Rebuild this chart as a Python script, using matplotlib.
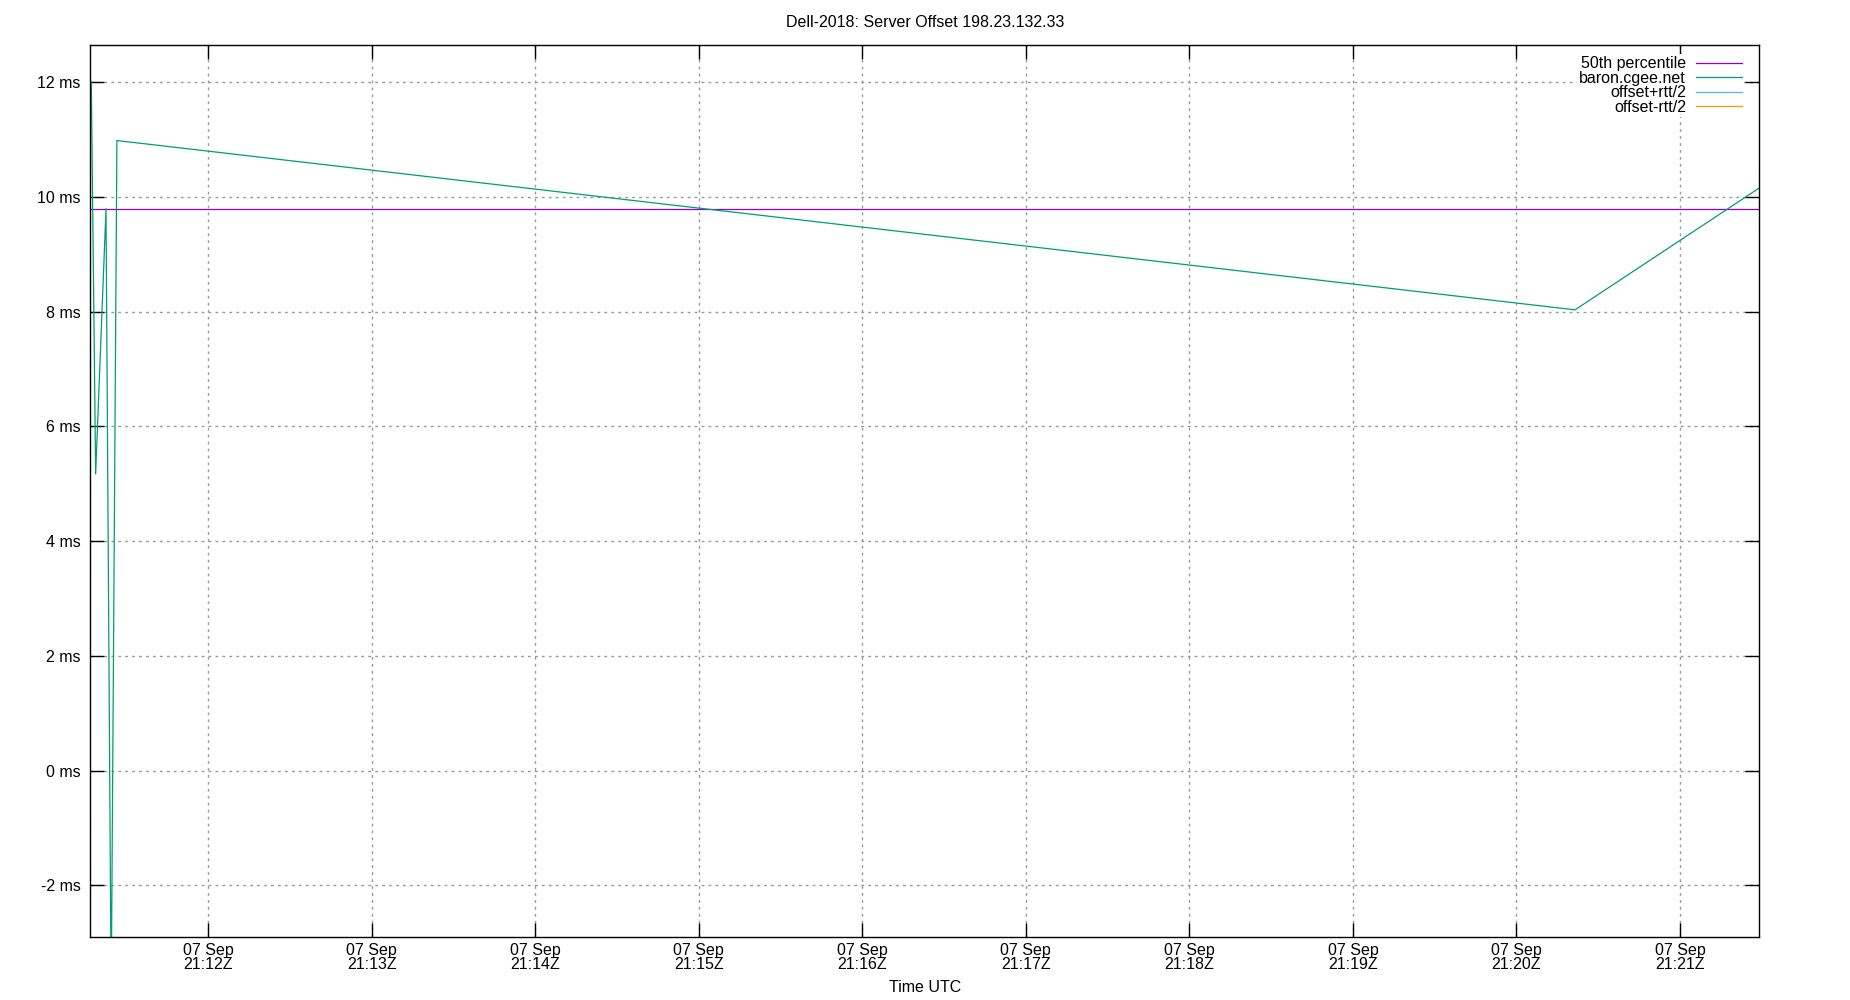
import numpy as np
import pandas as pd
import matplotlib
matplotlib.use("Agg")
import matplotlib.pyplot as plt
import matplotlib.dates as mdates
from matplotlib.ticker import FuncFormatter, MultipleLocator

plt.rcParams['font.family'] = ['Liberation Sans', 'DejaVu Sans']
plt.rcParams['font.size'] = 11.5

# server offset samples (ms)
times = pd.to_datetime([
    "2018-09-07 21:11:17.1",
    "2018-09-07 21:11:18.7",
    "2018-09-07 21:11:22.5",
    "2018-09-07 21:11:24.4",
    "2018-09-07 21:11:26.5",
    "2018-09-07 21:20:21.5",
    "2018-09-07 21:21:29.0",
])
offsets = [12.0, 5.17, 9.79, -4.0, 10.98, 8.03, 10.15]
median_offset = 9.79
rtt_plus = []
rtt_minus = []
rtt_times = []

xmin = pd.Timestamp("2018-09-07 21:11:16.8")
xmax = pd.Timestamp("2018-09-07 21:21:29.0")
ymin, ymax = -2.89, 12.645

fig = plt.figure(figsize=(18.5, 10), dpi=100)
ax = fig.add_axes([0.0489, 0.0635, 0.9019, 0.8915])

ax.plot([xmin, xmax], [median_offset, median_offset], color='#9400d3', lw=0.9,
        label='50th percentile')
ax.plot(times, offsets, color='#009e73', lw=0.9, label='baron.cgee.net')
ax.plot(rtt_times, rtt_plus, color='#56b4e9', lw=0.9, label='offset+rtt/2')
ax.plot(rtt_times, rtt_minus, color='#e69f00', lw=0.9, label='offset-rtt/2')

ax.set_xlim(xmin, xmax)
ax.set_ylim(ymin, ymax)
ax.xaxis.set_major_locator(mdates.MinuteLocator())
ax.xaxis.set_major_formatter(mdates.DateFormatter('%d %b\n%H:%MZ'))
ax.yaxis.set_major_locator(MultipleLocator(2))
ax.yaxis.set_major_formatter(FuncFormatter(lambda v, p: f"{v:.0f} ms"))

ax.tick_params(direction='in', length=10, width=1, top=True, right=True,
               labelsize=11.5)
ax.tick_params(axis='x', pad=4.5)
ax.tick_params(axis='y', pad=7)
for lbl in ax.get_xticklabels():
    lbl.set_linespacing(0.95)
ax.grid(True, color='#999999', linestyle=(0, (2, 3)), lw=1)
for s in ax.spines.values():
    s.set_linewidth(1)

ax.set_title('Dell-2018: Server Offset 198.23.132.33', fontsize=11.5, pad=13)
ax.set_xlabel('Time UTC', fontsize=11.5, labelpad=6)

leg = ax.legend(loc='upper right',
                bbox_to_anchor=(1 - 14.6 / 1668.5, 1 - 8.8 / 891.5),
                markerfirst=False, frameon=True,
                fancybox=False, framealpha=1, edgecolor='white',
                handlelength=2.9, handletextpad=0.6, labelspacing=-0.03,
                borderpad=0.15, borderaxespad=0, fontsize=11.5)
leg.get_frame().set_linewidth(0)

fig.savefig('out.png', dpi=100)
